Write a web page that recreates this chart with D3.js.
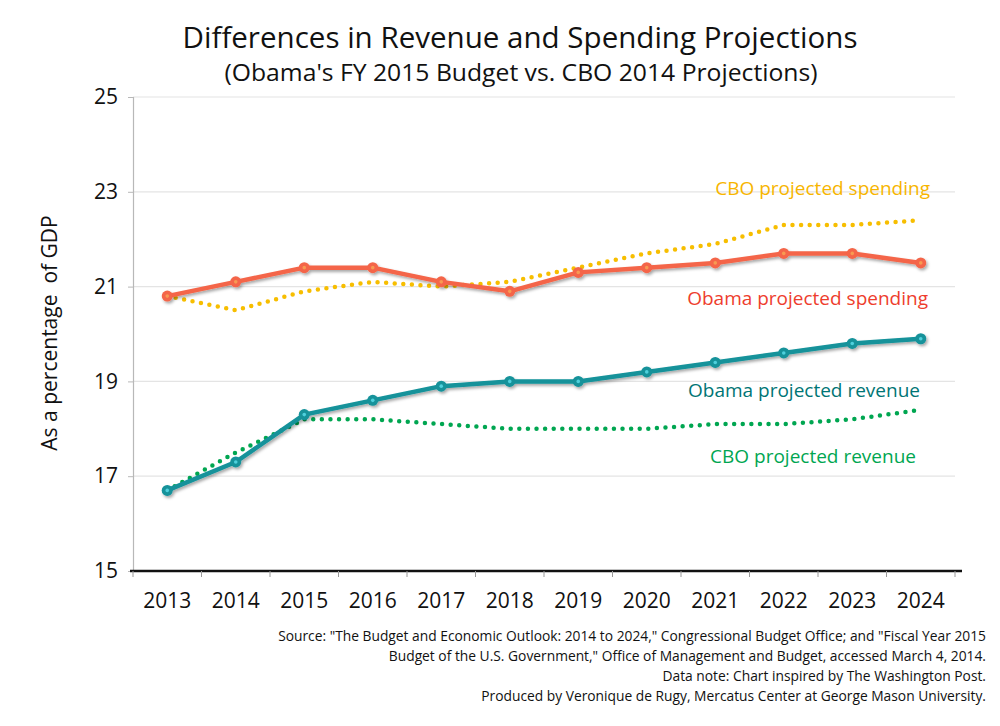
<!DOCTYPE html>
<html><head><meta charset="utf-8">
<script src="https://cdn.jsdelivr.net/npm/d3@7"></script>
<style>body{margin:0;background:#fff}svg{display:block}</style>
</head><body>
<svg id="c" width="1000" height="726"></svg>
<script>
const years = ["2013","2014","2015","2016","2017","2018","2019","2020","2021","2022","2023","2024"];
const obamaSpending = [20.8,21.1,21.4,21.4,21.1,20.9,21.3,21.4,21.5,21.7,21.7,21.5];
const cboSpending   = [20.8,20.5,20.9,21.1,21.0,21.1,21.4,21.7,21.9,22.3,22.3,22.4];
const obamaRevenue  = [16.7,17.3,18.3,18.6,18.9,19.0,19.0,19.2,19.4,19.6,19.8,19.9];
const cboRevenue    = [16.7,17.5,18.2,18.2,18.1,18.0,18.0,18.0,18.1,18.1,18.2,18.4];
const yTicks = [15,17,19,21,23,25];
const seriesLabels = ["CBO projected spending","Obama projected spending","Obama projected revenue","CBO projected revenue"];
const titleText = "Differences in Revenue and Spending Projections";
const subtitleText = "(Obama's FY 2015 Budget vs. CBO 2014 Projections)";
const yLabel = "As a percentage  of GDP";
const notes = [
 "Source: \"The Budget and Economic Outlook: 2014 to 2024,\" Congressional Budget Office; and \"Fiscal Year 2015",
 "Budget of the U.S. Government,\" Office of Management and Budget, accessed March 4, 2014.",
 "Data note: Chart inspired by The Washington Post.",
 "Produced by Veronique de Rugy, Mercatus Center at George Mason University."
];

const svg = d3.select("#c");
const x = d3.scaleBand().domain(years).range([133,955]);
const y = d3.scaleLinear().domain([15,25]).range([571,97]);
const cx = d => x(d) + x.bandwidth()/2;

const defs = svg.append("defs");
const f = defs.append("filter").attr("id","sh").attr("x","-10%").attr("y","-50%").attr("width","120%").attr("height","200%");
f.append("feDropShadow").attr("dx",1.5).attr("dy",2).attr("stdDeviation",1.5).attr("flood-color","#000").attr("flood-opacity",0.35);

// gridlines
svg.append("g").selectAll("line").data(yTicks.filter(t=>t>15)).join("line")
  .attr("x1",133).attr("x2",955).attr("y1",d=>y(d)).attr("y2",d=>y(d))
  .attr("stroke","#e4e4e4").attr("stroke-width",1.2);

// y axis
const ya = svg.append("g").attr("transform","translate(133,0)")
  .call(d3.axisLeft(y).tickValues(yTicks).tickSize(5).tickPadding(10));
ya.select(".domain").attr("stroke","#b8b8b8").attr("stroke-width",1.2);
ya.selectAll(".tick line").attr("stroke","#b8b8b8");
ya.selectAll(".tick text").attr("font-family","'Open Sans',sans-serif").attr("font-size",21).attr("fill","#111");

// x axis
const xa = svg.append("g").attr("transform","translate(0,571)")
  .call(d3.axisBottom(x).tickSize(0).tickPadding(22));
xa.select(".domain").remove();
xa.selectAll(".tick text").attr("font-family","'Open Sans',sans-serif").attr("font-size",21).attr("fill","#111");
svg.append("line").attr("x1",130).attr("x2",962).attr("y1",571).attr("y2",571).attr("stroke","#111").attr("stroke-width",2.5);
const bounds = years.map(d=>x(d)).concat([x(years[years.length-1])+x.bandwidth()]);
svg.append("g").selectAll("line").data(bounds).join("line")
  .attr("x1",d=>d).attr("x2",d=>d).attr("y1",571).attr("y2",577)
  .attr("stroke","#999").attr("stroke-width",1);

const line = d3.line().x((d,i)=>cx(years[i])).y(d=>y(d));

// dotted
function dotted(data,color){
  svg.append("path").datum(data).attr("d",line).attr("fill","none")
    .attr("stroke",color).attr("stroke-width",4.5).attr("stroke-linecap","round")
    .attr("stroke-dasharray","0 8.6");
}
dotted(cboSpending,"#f7be00");
dotted(cboRevenue,"#00a651");

function solid(data,color,inner){
  const g = svg.append("g").attr("filter","url(#sh)");
  g.append("path").datum(data).attr("d",line).attr("fill","none")
    .attr("stroke",color).attr("stroke-width",4.5).attr("stroke-linejoin","round");
  g.selectAll("circle").data(data).join("circle")
    .attr("cx",(d,i)=>cx(years[i])).attr("cy",d=>y(d)).attr("r",5.5)
    .attr("fill",color);
  svg.append("g").selectAll("circle").data(data).join("circle")
    .attr("cx",(d,i)=>cx(years[i])).attr("cy",d=>y(d)).attr("r",1.8)
    .attr("fill",inner);
}
solid(obamaSpending,"#f46548","#f79a52");
solid(obamaRevenue,"#13929a","#4fd0dc");

// series labels
const labelPos = [[930,195,"#f7b500"],[928,305,"#ee3d2d"],[920,397,"#007575"],[916,463,"#00a651"]];
svg.append("g").selectAll("text").data(seriesLabels).join("text")
  .attr("x",(d,i)=>labelPos[i][0]).attr("y",(d,i)=>labelPos[i][1])
  .attr("text-anchor","end").attr("font-family","'Open Sans',sans-serif").attr("font-size",19)
  .attr("fill",(d,i)=>labelPos[i][2]).text(d=>d);

// titles
svg.append("text").attr("x",520).attr("y",48).attr("text-anchor","middle")
  .attr("font-family","'Open Sans',sans-serif").attr("font-size",29).attr("fill","#111")
  .attr("textLength",675).attr("lengthAdjust","spacingAndGlyphs").text(titleText);
svg.append("text").attr("x",521).attr("y",81).attr("text-anchor","middle")
  .attr("font-family","'Open Sans',sans-serif").attr("font-size",23).attr("fill","#111")
  .attr("textLength",593).attr("lengthAdjust","spacingAndGlyphs").text(subtitleText);

// y label
svg.append("text").attr("transform","translate(57,333) rotate(-90)").attr("text-anchor","middle")
  .style("white-space","pre").attr("xml:space","preserve")
  .attr("font-family","'Open Sans',sans-serif").attr("font-size",21).attr("fill","#111").text(yLabel);

// notes
svg.append("g").selectAll("text").data(notes).join("text")
  .attr("x",986).attr("y",(d,i)=>641+i*20).attr("text-anchor","end")
  .attr("font-family","'Open Sans',sans-serif").attr("font-size",13.8).attr("fill","#111")
  .text(d=>d);
</script>
</body></html>
